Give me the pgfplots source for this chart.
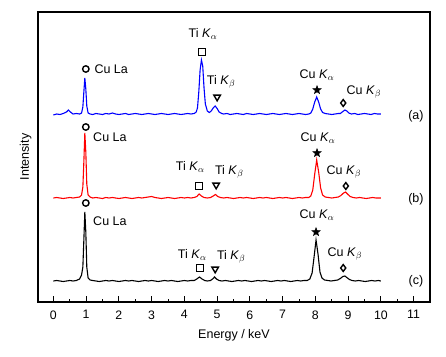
\documentclass[border=0pt]{standalone}
\usepackage{fontspec}
\setmainfont{Liberation Sans}
\usepackage{pgfplots}
\pgfplotsset{compat=1.18}
\pgfdeclareplotmark{fstar}{%
  \pgfpathmoveto{\pgfpointpolar{90}{\pgfplotmarksize}}%
  \pgfpathlineto{\pgfpointpolar{126}{0.42\pgfplotmarksize}}%
  \pgfpathlineto{\pgfpointpolar{162}{\pgfplotmarksize}}%
  \pgfpathlineto{\pgfpointpolar{198}{0.42\pgfplotmarksize}}%
  \pgfpathlineto{\pgfpointpolar{234}{\pgfplotmarksize}}%
  \pgfpathlineto{\pgfpointpolar{270}{0.42\pgfplotmarksize}}%
  \pgfpathlineto{\pgfpointpolar{306}{\pgfplotmarksize}}%
  \pgfpathlineto{\pgfpointpolar{342}{0.42\pgfplotmarksize}}%
  \pgfpathlineto{\pgfpointpolar{18}{\pgfplotmarksize}}%
  \pgfpathlineto{\pgfpointpolar{54}{0.42\pgfplotmarksize}}%
  \pgfpathclose\pgfusepathqfillstroke}
\newcommand{\Ka}{\textit{K}$_{\alpha}$}
\newcommand{\Kb}{\textit{K}$_{\beta}$}
\tikzset{lbl/.style={font=\fontsize{12.5}{14}\selectfont, inner sep=1pt}}
\begin{document}
\begin{tikzpicture}
\begin{axis}[
  scale only axis, width=392pt, height=290pt,
  xmin=-0.47, xmax=11.5, ymin=0, ymax=290,
  xtick={0,1,...,11}, minor x tick num=1,
  ytick=\empty, xtick pos=bottom, tick align=inside,
  major tick length=6pt, minor tick length=3.5pt,
  every tick/.style={black, line width=1pt},
  axis line style={line width=1.3pt},
  /pgf/number format/assume math mode=true,
  tick label style={font=\fontsize{12.3}{14}\selectfont},
  xticklabel style={yshift=-5pt},
  label style={font=\fontsize{12.5}{14}\selectfont},
  xlabel={Energy / keV}, ylabel={Intensity},
  xlabel style={yshift=-3pt}, ylabel style={yshift=3pt},
  clip=false,
]
% (a)
\addplot[blue, line width=1.1pt] coordinates {
(0.00,187)(0.10,188)(0.20,187.5)(0.30,188.5)(0.40,190)(0.46,192)(0.52,190)(0.60,188)(0.70,188.5)(0.80,188)(0.86,189)(0.90,195)(0.93,210)(0.96,224)(0.99,213)(1.02,196)(1.06,189)(1.12,188)(1.20,187.5)(1.30,188.5)(1.40,188)(1.50,187.5)(1.60,188.5)(1.70,188)(1.80,189)(1.90,188)(2.00,187.5)(2.10,188)(2.20,188.5)(2.30,187.5)(2.40,188)(2.50,188.5)(2.60,188)(2.70,187.5)(2.80,188)(2.90,188.5)(3.00,188)(3.10,187.5)(3.20,188)(3.30,188.5)(3.40,188)(3.50,187.5)(3.60,188)(3.70,188.5)(3.80,188)(3.90,187.5)(4.00,188)(4.10,188.5)(4.20,188)(4.30,188.5)(4.36,190)(4.40,194)(4.44,210)(4.48,232)(4.52,242)(4.56,236)(4.60,214)(4.64,198)(4.70,191)(4.76,189.5)(4.82,191)(4.88,194)(4.94,196)(5.00,193.5)(5.06,190)(5.14,188.5)(5.20,188)(5.30,188.5)(5.40,187.5)(5.50,188)(5.60,188.5)(5.70,188)(5.80,187.5)(5.90,188.5)(6.00,188)(6.10,187.5)(6.20,188)(6.30,188.5)(6.40,188)(6.50,187.5)(6.60,188)(6.70,188.5)(6.80,188)(6.90,187.5)(7.00,188)(7.10,188.5)(7.20,188)(7.30,187.5)(7.40,188)(7.50,188.5)(7.60,188)(7.70,187.5)(7.80,188)(7.86,189)(7.92,193)(7.98,200)(8.04,205)(8.10,200)(8.16,193)(8.22,189.5)(8.30,188.5)(8.40,188)(8.50,187.5)(8.60,188)(8.70,188.5)(8.76,188.5)(8.82,190)(8.90,192)(8.96,191)(9.02,189)(9.10,188)(9.20,188.5)(9.30,187.5)(9.40,188)(9.50,188.5)(9.60,188)(9.70,187.5)(9.80,188.5)(9.90,188)(10.00,188)};
% (b)
\addplot[red, line width=1.1pt] coordinates {
(0.00,104)(0.10,104.5)(0.20,104)(0.30,103.5)(0.40,104)(0.50,104.5)(0.60,104)(0.70,104.5)(0.80,105)(0.86,107)(0.90,115)(0.93,140)(0.96,169)(0.99,150)(1.02,118)(1.06,107)(1.12,105)(1.20,104)(1.30,104.5)(1.40,104)(1.50,103.5)(1.60,104.5)(1.70,104)(1.80,104.5)(1.90,104)(2.00,103.5)(2.10,104)(2.20,104.5)(2.30,104)(2.40,103.5)(2.50,104)(2.60,104.5)(2.70,104)(2.80,104.5)(2.90,105)(3.00,105.5)(3.10,104.5)(3.20,104)(3.30,103.5)(3.40,104)(3.50,104.5)(3.60,104)(3.70,103.5)(3.80,104)(3.90,104.5)(4.00,104)(4.10,104.5)(4.20,104)(4.30,104.5)(4.38,105.5)(4.45,108)(4.52,106)(4.60,104.5)(4.70,104)(4.80,104.5)(4.88,106)(4.95,107.5)(5.02,105.5)(5.10,104.5)(5.20,104)(5.30,104.5)(5.40,104)(5.50,103.5)(5.60,104)(5.70,104.5)(5.80,104)(5.90,104.5)(6.00,104)(6.10,103.5)(6.20,104)(6.30,104.5)(6.40,104)(6.50,104.5)(6.60,104)(6.70,103.5)(6.80,104)(6.90,104.5)(7.00,104)(7.10,104.5)(7.20,104)(7.30,103.5)(7.40,104)(7.50,104.5)(7.60,104)(7.70,104.5)(7.80,104.5)(7.86,106)(7.92,112)(7.98,128)(8.04,142)(8.10,130)(8.16,114)(8.22,107)(8.30,105)(8.40,104.5)(8.50,104)(8.60,104.5)(8.70,105)(8.78,106.5)(8.86,109)(8.92,110)(8.98,108)(9.06,105.5)(9.15,104.5)(9.25,104)(9.35,104.5)(9.45,104)(9.55,103.5)(9.65,104)(9.75,104.5)(9.85,104)(9.95,104)(10.00,104)};
% (c)
\addplot[black, line width=1.1pt] coordinates {
(0.00,21)(0.10,21.5)(0.20,21)(0.30,20.5)(0.40,21)(0.50,21.5)(0.60,21)(0.70,21.5)(0.80,23)(0.86,27)(0.90,35)(0.93,62)(0.96,90)(0.99,70)(1.02,35)(1.06,24)(1.12,22)(1.20,21.5)(1.30,21)(1.40,20.5)(1.50,21)(1.60,21.5)(1.70,21)(1.80,21.5)(1.90,21)(2.00,20.5)(2.10,21)(2.20,21.5)(2.30,21)(2.40,21.5)(2.50,21)(2.60,20.5)(2.70,21)(2.80,21.5)(2.90,21)(3.00,21.5)(3.10,21)(3.20,20.5)(3.30,21)(3.40,21.5)(3.50,21)(3.60,21.5)(3.70,21)(3.80,20.5)(3.90,21)(4.00,21.5)(4.10,21)(4.20,21.5)(4.30,21.5)(4.38,23)(4.46,25)(4.54,23)(4.62,21.5)(4.70,21)(4.80,21.5)(4.86,23)(4.92,25)(4.98,23)(5.06,21.5)(5.15,21)(5.25,21.5)(5.35,21)(5.45,20.5)(5.55,21)(5.65,21.5)(5.75,21)(5.85,21.5)(5.95,21)(6.05,20.5)(6.15,21)(6.25,21.5)(6.35,21)(6.45,21.5)(6.55,21)(6.65,20.5)(6.75,21)(6.85,21.5)(6.95,21)(7.05,21.5)(7.15,21)(7.25,20.5)(7.35,21)(7.45,21.5)(7.55,21)(7.65,21.5)(7.75,21.5)(7.83,23)(7.90,29)(7.96,45)(8.02,62)(8.08,48)(8.14,30)(8.20,24)(8.28,22)(8.38,21.5)(8.48,21)(8.58,21.5)(8.68,22)(8.76,23.5)(8.84,25.5)(8.90,26)(8.96,24.5)(9.04,22.5)(9.12,21.5)(9.22,21)(9.32,21.5)(9.42,21)(9.52,20.5)(9.62,21)(9.72,21.5)(9.82,21)(9.92,21.5)(10.00,21)};
% markers
\addplot[only marks, mark=o, mark size=3.2pt, line width=1.4pt, black] coordinates {(0.99,233)(0.99,175)(0.99,99)};
\addplot[only marks, mark=square, mark size=3.4pt, line width=1.4pt, black] coordinates {(4.54,250)(4.45,116)(4.48,34)};
\addplot[only marks, mark=triangle, mark size=3.8pt, line width=1.4pt, black, mark options={rotate=180}] coordinates {(5.00,205)(4.97,117)(4.94,33)};
\addplot[only marks, mark=fstar, mark size=4.2pt, line width=0.6pt, black, fill=black] coordinates {(8.05,212)(8.05,149)(8.02,70)};
\addplot[only marks, mark=diamond, mark size=3.4pt, line width=1.4pt, black] coordinates {(8.85,199)(8.93,116)(8.85,34)};
% labels (a)
\node[lbl, anchor=west] at (axis cs:1.22,233) {Cu La};
\node[lbl] at (axis cs:4.57,268) {Ti \Ka};
\node[lbl] at (axis cs:5.12,220) {Ti \Kb};
\node[lbl] at (axis cs:8.05,227) {Cu \Ka};
\node[lbl] at (axis cs:9.48,210) {Cu \Kb};
\node[lbl] at (axis cs:11.07,186) {(a)};
% labels (b)
\node[lbl, anchor=west] at (axis cs:1.18,164.5) {Cu La};
\node[lbl] at (axis cs:4.18,135) {Ti \Ka};
\node[lbl] at (axis cs:5.37,130) {Ti \Kb};
\node[lbl] at (axis cs:8.08,164) {Cu \Ka};
\node[lbl] at (axis cs:8.87,130) {Cu \Kb};
\node[lbl] at (axis cs:11.07,102.5) {(b)};
% labels (c)
\node[lbl, anchor=west] at (axis cs:1.18,80.5) {Cu La};
\node[lbl] at (axis cs:4.24,47) {Ti \Ka};
\node[lbl] at (axis cs:5.43,45) {Ti \Kb};
\node[lbl] at (axis cs:8.05,87) {Cu \Ka};
\node[lbl] at (axis cs:8.9,48) {Cu \Kb};
\node[lbl] at (axis cs:11.07,21) {(c)};
\end{axis}
\pgfresetboundingbox
\path (current axis.south west) ++(-38pt,-54pt) coordinate (bbA);
\path (current axis.north east) ++(16pt,12pt) coordinate (bbB);
\path[use as bounding box] (bbA) rectangle (bbB);
\end{tikzpicture}
\end{document}
